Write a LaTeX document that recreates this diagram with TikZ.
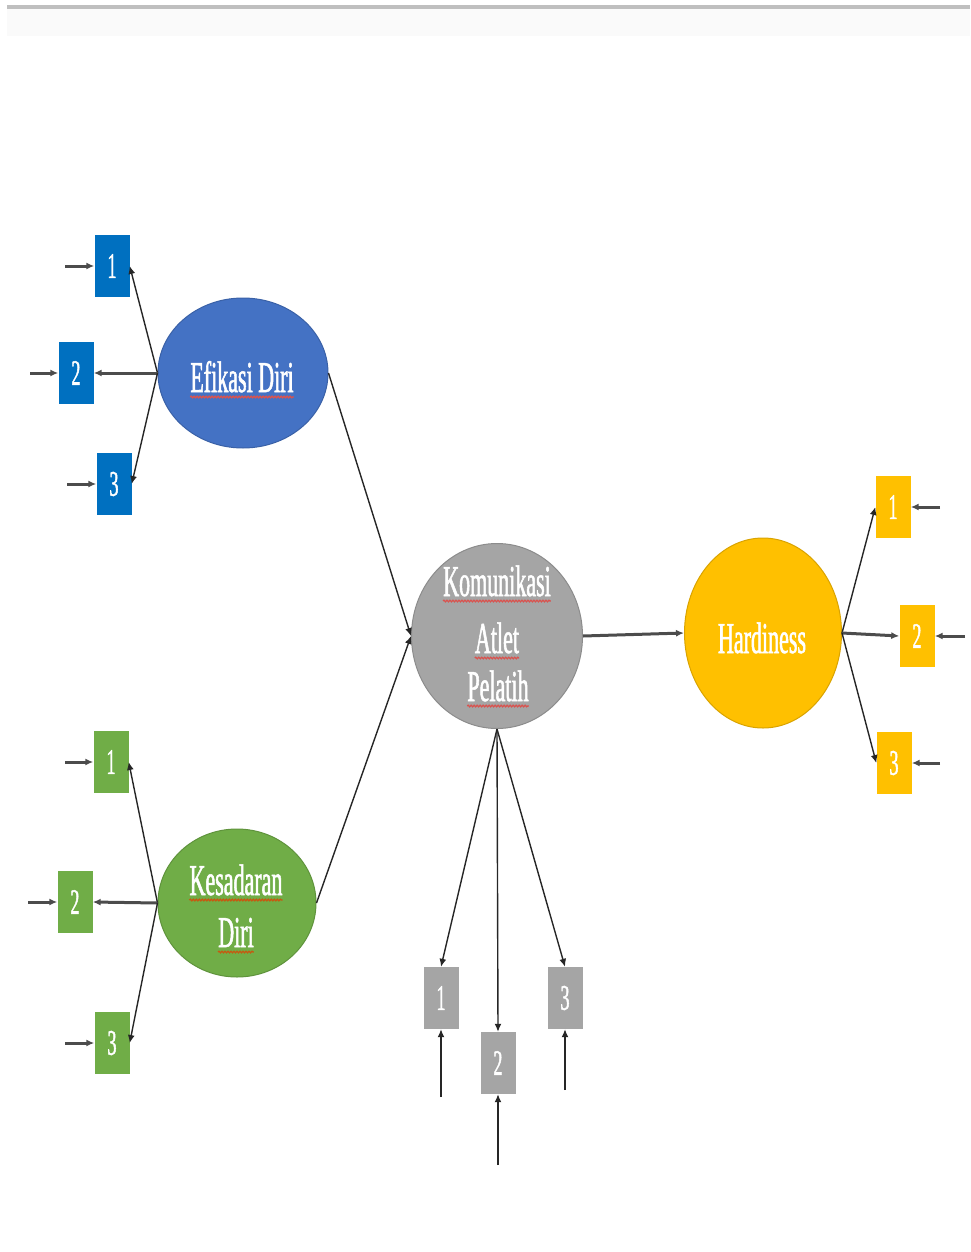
\documentclass[tikz,border=0pt]{standalone}
\usepackage{fontspec}
\newfontfamily\lbl[FakeStretch=0.5,FakeBold=1.2]{Liberation Serif}
\usetikzlibrary{arrows.meta,shapes.geometric,decorations.pathmorphing}

\definecolor{efblue}{HTML}{4472C4}
\definecolor{boxblue}{HTML}{0070C0}
\definecolor{kgreen}{HTML}{70AD47}
\definecolor{kgray}{HTML}{A5A5A5}
\definecolor{hyellow}{HTML}{FFC000}
\definecolor{squigred}{HTML}{D9534F}
\definecolor{squigorange}{HTML}{C55A11}

\tikzset{
  latent/.style={ellipse, inner sep=0, line width=1},
  ind/.style={rectangle, inner sep=0, minimum width=35, minimum height=62,
    font=\lbl\fontsize{36}{36}\selectfont, text=white},
  lab/.style={font=\lbl\fontsize{44}{44}\selectfont, text=white, anchor=base, inner sep=0},
  thin path/.style={-{Latex[length=8,width=7]}, line width=1.4, black!85},
  thick path/.style={-{Latex[length=8,width=7]}, line width=3, black!70},
  squig/.style={line width=1.3, decorate,
    decoration={snake, amplitude=0.8, segment length=3}},
}

\begin{document}
\begin{tikzpicture}[x=1pt, y=-1pt]
\useasboundingbox (0,0) rectangle (970,1252);

% header rule
\fill[black!2] (7,9) rectangle (970,36);
\fill[black!25] (7,5) rectangle (970,9);

% latent variables
\node[latent, fill=efblue, draw=efblue!85!black, minimum width=170, minimum height=150] (ef) at (243,373) {};
\node[latent, fill=kgreen, draw=kgreen!85!black, minimum width=158, minimum height=148] (ks) at (237,903) {};
\node[latent, fill=kgray, draw=kgray!85!black, minimum width=171, minimum height=185] (km) at (497,636) {};
\node[latent, fill=hyellow, draw=hyellow!85!black, minimum width=157, minimum height=190] (hd) at (763,633) {};

% latent labels
\node[lab] (tef) at (242,392) {Efikasi Diri};
\node[lab] (tks1) at (236,895) {Kesadaran};
\node[lab] (tks2) at (236,947) {Diri};
\node[lab] (tkm1) at (497,596) {Komunikasi};
\node[lab] (tkm2) at (497,653) {Atlet};
\node[lab] (tkm3) at (498,701) {Pelatih};
\node[lab] (thd) at (762,653) {Hardiness};

% spelling marks under the labels
\foreach \t in {tef,tkm1,tkm2,tkm3}
  \draw[squig, squigred] ([yshift=-5]\t.base west) -- ([yshift=-5]\t.base east);
\foreach \t in {tks1,tks2}
  \draw[squig, squigorange] ([yshift=-5]\t.base west) -- ([yshift=-5]\t.base east);

% indicators: Efikasi Diri
\node[ind, fill=boxblue] (e1) at (112,266) {1};
\node[ind, fill=boxblue] (e2) at (76,373) {2};
\node[ind, fill=boxblue] (e3) at (114,484) {3};
% indicators: Kesadaran Diri
\node[ind, fill=kgreen] (k1) at (111,762) {1};
\node[ind, fill=kgreen] (k2) at (75,902) {2};
\node[ind, fill=kgreen] (k3) at (112,1043) {3};
% indicators: Komunikasi Atlet Pelatih
\node[ind, fill=kgray] (m1) at (441,998) {1};
\node[ind, fill=kgray] (m2) at (498,1063) {2};
\node[ind, fill=kgray] (m3) at (565,998) {3};
% indicators: Hardiness
\node[ind, fill=hyellow] (h1) at (893,507) {1};
\node[ind, fill=hyellow] (h2) at (917,636) {2};
\node[ind, fill=hyellow] (h3) at (894,763) {3};

% error terms
\coordinate (ee1) at (65,266);
\coordinate (ee2) at (30,373);
\coordinate (ee3) at (67,484);
\coordinate (ek1) at (65,762);
\coordinate (ek2) at (28,902);
\coordinate (ek3) at (65,1043);
\coordinate (em1) at (441,1097);
\coordinate (em2) at (498,1165);
\coordinate (em3) at (565,1090);
\coordinate (eh1) at (940,507);
\coordinate (eh2) at (965,636);
\coordinate (eh3) at (940,763);

% loadings
\draw[thin path] (ef.west) -- (e1.east);
\draw[thick path] (ef.west) -- (e2.east);
\draw[thin path] (ef.west) -- (e3.east);
\draw[thin path] (ks.west) -- (k1.east);
\draw[thick path] (ks.west) -- (k2.east);
\draw[thin path] (ks.west) -- (k3.east);
\draw[thin path] (km.south) -- (m1.north);
\draw[thin path] (km.south) -- (m2.north);
\draw[thin path] (km.south) -- (m3.north);
\draw[thin path] (hd.east) -- (h1.west);
\draw[thick path] (hd.east) -- (h2.west);
\draw[thin path] (hd.east) -- (h3.west);

% structural paths
\draw[thin path] (ef.east) -- (km.west);
\draw[thin path] (ks.east) -- (km.west);
\draw[thick path] (km.east) -- (hd.west);

% errors into indicators
\draw[thick path] (ee1) -- (e1.west);
\draw[thick path] (ee2) -- (e2.west);
\draw[thick path] (ee3) -- (e3.west);
\draw[thick path] (ek1) -- (k1.west);
\draw[thick path] (ek2) -- (k2.west);
\draw[thick path] (ek3) -- (k3.west);
\draw[thin path] (em1) -- (m1.south);
\draw[thin path] (em2) -- (m2.south);
\draw[thin path] (em3) -- (m3.south);
\draw[thick path] (eh1) -- (h1.east);
\draw[thick path] (eh2) -- (h2.east);
\draw[thick path] (eh3) -- (h3.east);
\end{tikzpicture}
\end{document}
